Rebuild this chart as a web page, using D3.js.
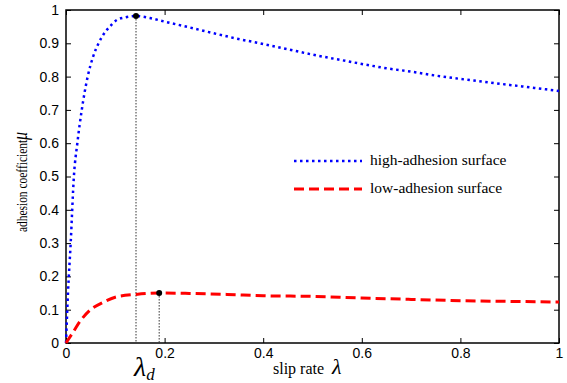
<!DOCTYPE html>
<html>
<head>
<meta charset="utf-8">
<script src="https://cdn.jsdelivr.net/npm/d3@7"></script>
<style>
  body { margin: 0; background: #fff; }
  .tick text { font-family: "Liberation Sans", Arial, sans-serif; font-size: 14px; fill: #000; }
</style>
</head>
<body>
<svg id="chart" width="567" height="383"></svg>
<script>
// slip rate values and adhesion coefficients
var highLambda = [0, 0.004, 0.0095, 0.016, 0.023, 0.032, 0.044, 0.055, 0.066, 0.08, 0.092, 0.103, 0.12, 0.142, 0.17, 0.2, 0.25, 0.3, 0.35, 0.4, 0.45, 0.5, 0.55, 0.6, 0.65, 0.7, 0.75, 0.8, 0.85, 0.9, 0.95, 1];
var highMu     = [0, 0.15, 0.3, 0.5, 0.6, 0.7, 0.8, 0.86, 0.9, 0.935, 0.955, 0.97, 0.978, 0.982, 0.976, 0.965, 0.948, 0.93, 0.913, 0.898, 0.882, 0.866, 0.852, 0.838, 0.825, 0.815, 0.803, 0.793, 0.784, 0.775, 0.766, 0.757];

var lowLambda = [0, 0.015, 0.028, 0.049, 0.075, 0.103, 0.142, 0.189, 0.25, 0.326, 0.4, 0.5, 0.6, 0.7, 0.8, 0.9, 1];
var lowMu     = [0, 0.034, 0.064, 0.099, 0.122, 0.139, 0.146, 0.15, 0.149, 0.146, 0.142, 0.14, 0.135, 0.131, 0.127, 0.125, 0.123];

var peaks = [{l: 0.142, m: 0.982}, {l: 0.189, m: 0.15}];

var xTicks = [0, 0.2, 0.4, 0.6, 0.8, 1];
var yTicks = [0, 0.1, 0.2, 0.3, 0.4, 0.5, 0.6, 0.7, 0.8, 0.9, 1];

var svg = d3.select("#chart"),
    margin = {top: 10, right: 8, bottom: 40, left: 66},
    width = 567 - margin.left - margin.right,
    height = 383 - margin.top - margin.bottom;

var x = d3.scaleLinear().domain([0, 1]).range([0, width]),
    y = d3.scaleLinear().domain([0, 1]).range([height, 0]);

var g = svg.append("g")
    .attr("transform", "translate(" + margin.left + "," + margin.top + ")");

// axes, MATLAB style ticks pointing inward
var xa = g.append("g")
    .attr("transform", "translate(0," + height + ")")
    .call(d3.axisBottom(x).tickValues(xTicks).tickFormat(d3.format("")).tickSizeInner(-5).tickSizeOuter(0).tickPadding(5));
var xt = g.append("g")
    .call(d3.axisTop(x).tickValues(xTicks).tickFormat("").tickSizeInner(-5).tickSizeOuter(0));
var ya = g.append("g")
    .call(d3.axisLeft(y).tickValues(yTicks).tickFormat(d3.format("")).tickSizeInner(-5).tickSizeOuter(0).tickPadding(7));
var yr = g.append("g")
    .attr("transform", "translate(" + width + ",0)")
    .call(d3.axisRight(y).tickValues(yTicks).tickFormat("").tickSizeInner(-5).tickSizeOuter(0));
[xa, xt, ya, yr].forEach(function(a) {
  a.select(".domain").remove();
  a.selectAll(".tick line").attr("stroke", "#000");
});

g.append("rect")
    .attr("width", width)
    .attr("height", height)
    .attr("fill", "none")
    .attr("stroke", "#000")
    .attr("stroke-width", 1.5);

var line = d3.line()
    .x(function(d) { return x(d[0]); })
    .y(function(d) { return y(d[1]); })
    .curve(d3.curveMonotoneX);

// vertical markers at the peaks
g.selectAll(".vline")
    .data(peaks)
    .enter().append("line")
    .attr("x1", function(d) { return x(d.l); })
    .attr("x2", function(d) { return x(d.l); })
    .attr("y1", function(d) { return y(d.m); })
    .attr("y2", height)
    .attr("stroke", "#333")
    .attr("stroke-width", 1)
    .attr("stroke-dasharray", "1.5,1.5");

g.append("path")
    .datum(d3.zip(highLambda, highMu))
    .attr("d", line)
    .attr("fill", "none")
    .attr("stroke", "#0000ff")
    .attr("stroke-width", 2.5)
    .attr("stroke-dasharray", "2.5,3.5");

g.append("path")
    .datum(d3.zip(lowLambda, lowMu))
    .attr("d", line)
    .attr("fill", "none")
    .attr("stroke", "#ff0000")
    .attr("stroke-width", 3)
    .attr("stroke-dasharray", "10,5");

g.selectAll(".peak")
    .data(peaks)
    .enter().append("circle")
    .attr("cx", function(d) { return x(d.l); })
    .attr("cy", function(d) { return y(d.m); })
    .attr("r", 3)
    .attr("fill", "#000");

// legend
var legend = [
  {name: "high-adhesion surface", color: "#0000ff", dash: "2.5,3.5", w: 2.5, y: 161},
  {name: "low-adhesion surface", color: "#ff0000", dash: "10,5", w: 3, y: 189}
];
var lg = svg.selectAll(".legend")
    .data(legend)
    .enter().append("g");
lg.append("line")
    .attr("x1", 294).attr("x2", 362)
    .attr("y1", function(d) { return d.y; })
    .attr("y2", function(d) { return d.y; })
    .attr("stroke", function(d) { return d.color; })
    .attr("stroke-width", function(d) { return d.w; })
    .attr("stroke-dasharray", function(d) { return d.dash; });
lg.append("text")
    .attr("x", 370)
    .attr("y", function(d) { return d.y + 4; })
    .attr("font-family", "Liberation Serif, Times New Roman, serif")
    .attr("font-size", 15.5)
    .text(function(d) { return d.name; });

// axis labels (condensed like the original)
var yl = svg.append("text")
    .attr("transform", "translate(27,182) rotate(-90) scale(0.88,1.15)")
    .attr("text-anchor", "middle")
    .attr("font-family", "Liberation Serif, Times New Roman, serif")
    .attr("font-size", 13);
yl.append("tspan").text("adhesion coefficient");
yl.append("tspan").attr("font-style", "italic").attr("font-size", 18).text("μ");

var xl = svg.append("text")
    .attr("x", 273)
    .attr("y", 374)
    .attr("font-family", "Liberation Serif, Times New Roman, serif")
    .attr("font-size", 16);
xl.append("tspan").text("slip rate ");
xl.append("tspan").attr("dx", 4).attr("font-style", "italic").attr("font-size", 22).text("λ");

var ld = svg.append("text")
    .attr("x", 134)
    .attr("y", 376)
    .attr("font-family", "Liberation Serif, Times New Roman, serif")
    .attr("font-style", "italic")
    .attr("font-size", 28);
ld.append("tspan").text("λ");
ld.append("tspan").attr("font-size", 17).attr("dy", 4).text("d");
</script>
</body>
</html>
